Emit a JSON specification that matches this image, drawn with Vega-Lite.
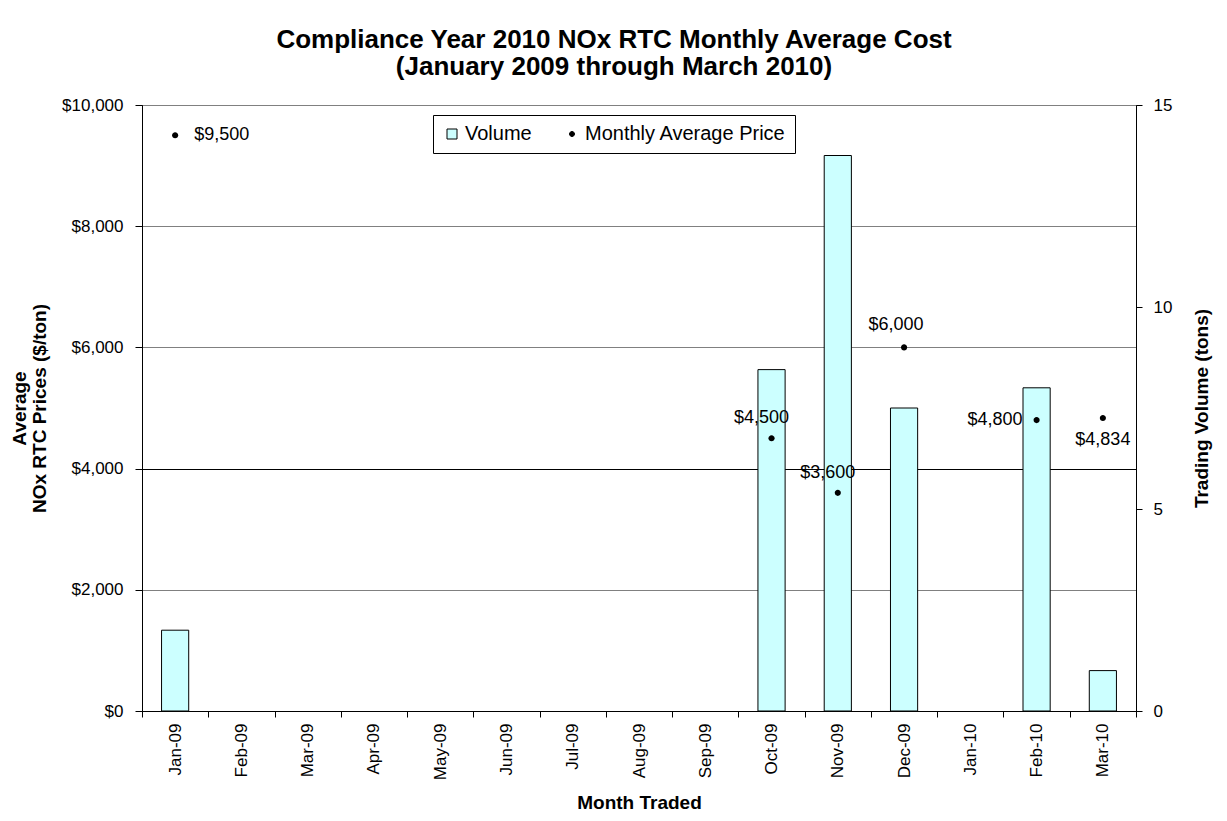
{
  "$schema": "https://vega.github.io/schema/vega-lite/v6.json",
  "autosize": {"type": "none"},
  "width": 994,
  "height": 606,
  "padding": {"left": 142, "top": 105, "right": 91, "bottom": 110},
  "background": "white",
  "config": {
    "font": "Liberation Sans",
    "view": {"stroke": "black", "strokeWidth": 1},
    "axis": {
      "labelFont": "Liberation Sans",
      "labelColor": "black",
      "labelFontSize": 17,
      "titleFont": "Liberation Sans",
      "titleColor": "black",
      "titleFontSize": 19,
      "titleFontWeight": "bold",
      "domainColor": "black",
      "tickColor": "black",
      "gridOpacity": 1
    },
    "legend": {
      "labelFont": "Liberation Sans",
      "labelFontSize": 20,
      "labelColor": "black",
      "labelLimit": 0
    }
  },
  "title": {
    "text": ["Compliance Year 2010 NOx RTC Monthly Average Cost", "(January 2009 through March 2010)"],
    "font": "Liberation Sans",
    "fontSize": 26,
    "fontWeight": "bold",
    "color": "black",
    "anchor": "middle",
    "frame": "group",
    "dx": -25,
    "offset": 16,
    "lineHeight": 27
  },
  "data": {
    "values": [
      {"month": "Jan-09", "volume": 2, "price": 9500},
      {"month": "Feb-09", "volume": null, "price": null},
      {"month": "Mar-09", "volume": null, "price": null},
      {"month": "Apr-09", "volume": null, "price": null},
      {"month": "May-09", "volume": null, "price": null},
      {"month": "Jun-09", "volume": null, "price": null},
      {"month": "Jul-09", "volume": null, "price": null},
      {"month": "Aug-09", "volume": null, "price": null},
      {"month": "Sep-09", "volume": null, "price": null},
      {"month": "Oct-09", "volume": 8.45, "price": 4500},
      {"month": "Nov-09", "volume": 13.75, "price": 3600},
      {"month": "Dec-09", "volume": 7.5, "price": 6000},
      {"month": "Jan-10", "volume": null, "price": null},
      {"month": "Feb-10", "volume": 8, "price": 4800},
      {"month": "Mar-10", "volume": 1, "price": 4834}
    ]
  },
  "encoding": {
    "x": {
      "field": "month",
      "type": "ordinal",
      "sort": null,
      "scale": {
        "domain": ["Jan-09","Feb-09","Mar-09","Apr-09","May-09","Jun-09","Jul-09","Aug-09","Sep-09","Oct-09","Nov-09","Dec-09","Jan-10","Feb-10","Mar-10"],
        "paddingInner": 0,
        "paddingOuter": 0
      },
      "axis": {
        "title": "Month Traded",
        "labelAngle": -90,
        "labelAlign": "right",
        "labelBaseline": "middle",
        "tickBand": "extent",
        "tickSize": 6,
        "labelPadding": 6,
        "titlePadding": 14,
        "grid": false
      }
    }
  },
  "layer": [
    {
      "mark": {"type": "bar", "stroke": "black", "strokeWidth": 1, "width": {"band": 0.41}},
      "transform": [{"calculate": "'Volume'", "as": "series"}],
      "encoding": {
        "y": {
          "field": "volume",
          "type": "quantitative",
          "scale": {"domain": [0, 15]},
          "axis": {
            "orient": "right",
            "title": "Trading Volume (tons)",
            "titleAngle": 270,
            "values": [0, 5, 10, 15],
            "grid": false,
            "tickSize": 6,
            "labelPadding": 11,
            "titlePadding": 40
          }
        },
        "color": {
          "field": "series",
          "type": "nominal",
          "scale": {"domain": ["Volume", "Monthly Average Price"], "range": ["#CCFFFF", "#000000"]},
          "legend": {
            "title": null,
            "orient": "none",
            "legendX": 291,
            "legendY": 10,
            "direction": "horizontal",
            "strokeColor": "black",
            "fillColor": "white",
            "padding": 9,
            "columnPadding": 30,
            "symbolSize": 100,
            "symbolStrokeColor": "black",
            "symbolStrokeWidth": 1,
            "labelOffset": 3
          }
        }
      }
    },
    {
      "encoding": {
        "y": {
          "field": "price",
          "type": "quantitative",
          "scale": {"domain": [0, 10000]},
          "axis": {
            "orient": "left",
            "title": ["Average", "NOx RTC Prices ($/ton)"],
            "titleLineHeight": 20,
            "values": [0, 2000, 4000, 6000, 8000, 10000],
            "format": "$,.0f",
            "grid": true,
            "gridColor": {"condition": {"test": "datum.value == 4000", "value": "#000000"}, "value": "#808080"},
            "tickSize": 7,
            "labelPadding": 12,
            "titlePadding": 12
          }
        }
      },
      "layer": [
        {
          "mark": {"type": "point", "filled": true, "size": 150, "opacity": 1},
          "transform": [{"calculate": "'Monthly Average Price'", "as": "series"}],
          "encoding": {
            "color": {"field": "series", "type": "nominal"},
            "shape": {
              "field": "series",
              "type": "nominal",
              "scale": {"domain": ["Volume", "Monthly Average Price"], "range": ["M-1,-1H1V1H-1Z", "M0,-0.5A0.5,0.5,0,1,1,0,0.5A0.5,0.5,0,1,1,0,-0.5Z"]},
              "legend": {"title": null}
            }
          }
        },
        {
          "transform": [{"filter": "datum.month == 'Jan-09'"}],
          "mark": {"type": "text", "align": "left", "baseline": "middle", "dx": 19, "fontSize": 18, "color": "black"},
          "encoding": {"text": {"field": "price", "format": "$,.0f"}}
        },
        {
          "transform": [{"filter": "datum.month == 'Oct-09' || datum.month == 'Nov-09'"}],
          "mark": {"type": "text", "align": "center", "baseline": "middle", "dx": -10, "dy": -20, "fontSize": 18, "color": "black"},
          "encoding": {"text": {"field": "price", "format": "$,.0f"}}
        },
        {
          "transform": [{"filter": "datum.month == 'Dec-09'"}],
          "mark": {"type": "text", "align": "center", "baseline": "middle", "dx": -8, "dy": -22, "fontSize": 18, "color": "black"},
          "encoding": {"text": {"field": "price", "format": "$,.0f"}}
        },
        {
          "transform": [{"filter": "datum.month == 'Feb-10'"}],
          "mark": {"type": "text", "align": "right", "baseline": "middle", "dx": -14, "fontSize": 18, "color": "black"},
          "encoding": {"text": {"field": "price", "format": "$,.0f"}}
        },
        {
          "transform": [{"filter": "datum.month == 'Mar-10'"}],
          "mark": {"type": "text", "align": "center", "baseline": "middle", "dy": 22, "fontSize": 18, "color": "black"},
          "encoding": {"text": {"field": "price", "format": "$,.0f"}}
        }
      ]
    }
  ],
  "resolve": {"scale": {"y": "independent"}}
}
